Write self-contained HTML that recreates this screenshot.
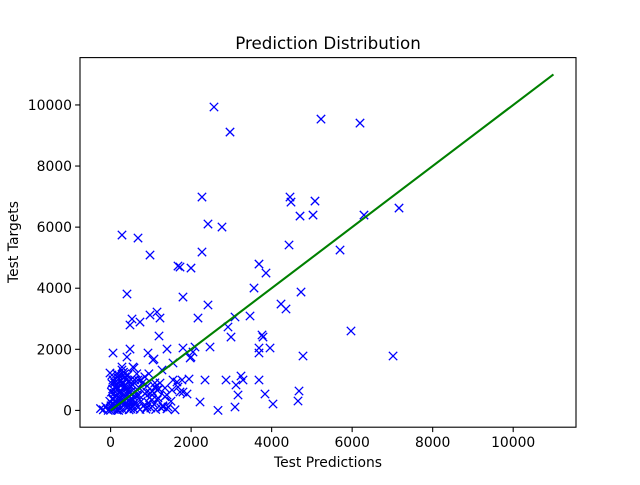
<!DOCTYPE html>
<html><head><meta charset="utf-8"><style>
body{margin:0;background:#fff}
svg text{font-family:"DejaVu Sans","Liberation Sans",sans-serif;fill:#000}
</style></head><body>
<svg id="chart" width="640" height="480" viewBox="0 0 640 480" xmlns="http://www.w3.org/2000/svg">
<rect x="0" y="0" width="640" height="480" fill="#fff"/>
<text x="328" y="49" font-size="16.7" text-anchor="middle">Prediction Distribution</text>
<text x="328" y="467" font-size="13.9" text-anchor="middle">Test Predictions</text>
<text x="0" y="0" font-size="13.9" text-anchor="middle" transform="translate(18,242) rotate(-90)">Test Targets</text>
<g id="plot"></g>
</svg>
<script>
const xTicks=[0,2000,4000,6000,8000,10000];
const yTicks=[0,2000,4000,6000,8000,10000];
const lineX=[0,11000];
const lineY=[0,11000];
const predX=[2568,2966,5226,6195,2270,4456,4481,5077,4705,5028,6294,7164,2419,2767,4432,5699,2270,1724,1997,3686,3860,3562,4730,1798,2419,4233,4357,2171,3090,3463,2916,2991,3761,3786,5971,1798,2096,2469,3686,3686,3960,1997,2047,4779,7016,1774,1948,2345,2867,3239,3289,3115,3686,1798,1898,3165,3835,4680,4655,2221,2668,3090,4034,
283,681,979,1674,407,532,482,730,979,1153,1227,1202,60,482,407,929,1401,1053,283,556,-15,681,1277,1550,
1977,1078,581,283,35,1103,1227,1351,1550,1649,1401,1177,1028,1302,1426,904,1153,1525,1674,979,1724,
-250,-180,-120,-60,-20,0,20,40,60,80,100,120,140,160,180,200,220,240,260,280,300,320,340,360,380,400,420,440,460,480,500,520,540,560,580,600,620,650,680,700,730,760,790,820,850,880,910,940,970,1000,1040,1080,1120,1160,1200,250,150,50,320,430,100,230,170,380,60,0,200,300,450,550,650,750,850,950,350,500,700,900,1100,1300,1400,1500,1600,1350,1250,
10,70,130,190,250,310,370,430,490,550,30,90,150,210,270,330,390,450,510,570,110,170,230,290,350,410,470,530,610,660];
const targetY=[9933,9112,9537,9406,6985,6985,6820,6853,6362,6395,6395,6624,6101,6003,5414,5250,5184,4693,4660,4791,4497,4006,3875,3711,3450,3482,3319,3024,3057,3090,2730,2402,2468,2402,2599,2042,2075,2075,2042,1879,2042,1748,1911,1781,1781,995,1028,995,995,1126,995,831,995,602,537,504,537,635,308,275,0,111,209,
5741,5643,5086,4726,3810,2992,2795,2893,3122,3221,3024,2435,1879,2009,1748,1879,2009,1650,1420,1420,1224,995,1322,1551,
1715,1682,1388,1322,1159,766,897,733,995,930,504,406,340,111,111,111,668,668,766,570,602,
60,20,120,0,300,80,600,200,1000,40,450,150,800,10,350,1150,60,650,250,900,30,500,180,1100,700,90,400,950,20,250,600,120,850,350,50,1000,200,500,100,750,30,300,900,150,550,40,800,250,420,80,620,200,30,350,700,1000,1200,700,1250,1150,900,400,700,250,350,0,0,300,600,950,1200,1000,1100,1200,1200,50,500,600,900,150,50,300,20,450,80,
150,380,720,900,520,260,820,640,300,160,880,560,240,1050,420,700,1000,130,780,460,320,1080,600,850,180,520,960,340,280,680];
const X0=80,X1=576,Y0=57.6,Y1=427.2,xmin=-760,xmax=11560,ymin=-550,ymax=11550;
const sx=v=>X0+(v-xmin)/(xmax-xmin)*(X1-X0);
const sy=v=>Y1-(v-ymin)/(ymax-ymin)*(Y1-Y0);
const NS="http://www.w3.org/2000/svg";
const g=document.getElementById('plot');
function mk(t,a){const e=document.createElementNS(NS,t);for(const k in a)e.setAttribute(k,a[k]);return e;}
for(let i=0;i<predX.length;i++){
  const cx=sx(predX[i]),cy=sy(targetY[i]),r=4.2;
  const p=mk('path',{d:`M${cx-r},${cy-r}L${cx+r},${cy+r}M${cx-r},${cy+r}L${cx+r},${cy-r}`,stroke:'#0000ff','stroke-width':1.3,fill:'none'});
  
  
  g.appendChild(p);
}
const ln=mk('line',{x1:sx(lineX[0]),y1:sy(lineY[0]),x2:sx(lineX[1]),y2:sy(lineY[1]),stroke:'#008000','stroke-width':2.1});


g.appendChild(ln);
const fr=mk('rect',{x:X0,y:Y0,width:X1-X0,height:Y1-Y0,fill:'none',stroke:'#000','stroke-width':1.1});


g.appendChild(fr);
xTicks.forEach(v=>{
  const x=sx(v);
  const t=mk('line',{x1:x,y1:Y1,x2:x,y2:Y1+4.9,stroke:'#000','stroke-width':1.1});
  
  
  g.appendChild(t);
  const l=mk('text',{x:x,y:Y1+20,'font-size':13.9,'text-anchor':'middle'});
  l.textContent=v;
  
  
  g.appendChild(l);
});
yTicks.forEach(v=>{
  const y=sy(v);
  const t=mk('line',{x1:X0-4.9,y1:y,x2:X0,y2:y,stroke:'#000','stroke-width':1.1});
  
  
  g.appendChild(t);
  const l=mk('text',{x:X0-8,y:y+5,'font-size':13.9,'text-anchor':'end'});
  l.textContent=v;
  
  
  g.appendChild(l);
});
</script>
</body></html>
